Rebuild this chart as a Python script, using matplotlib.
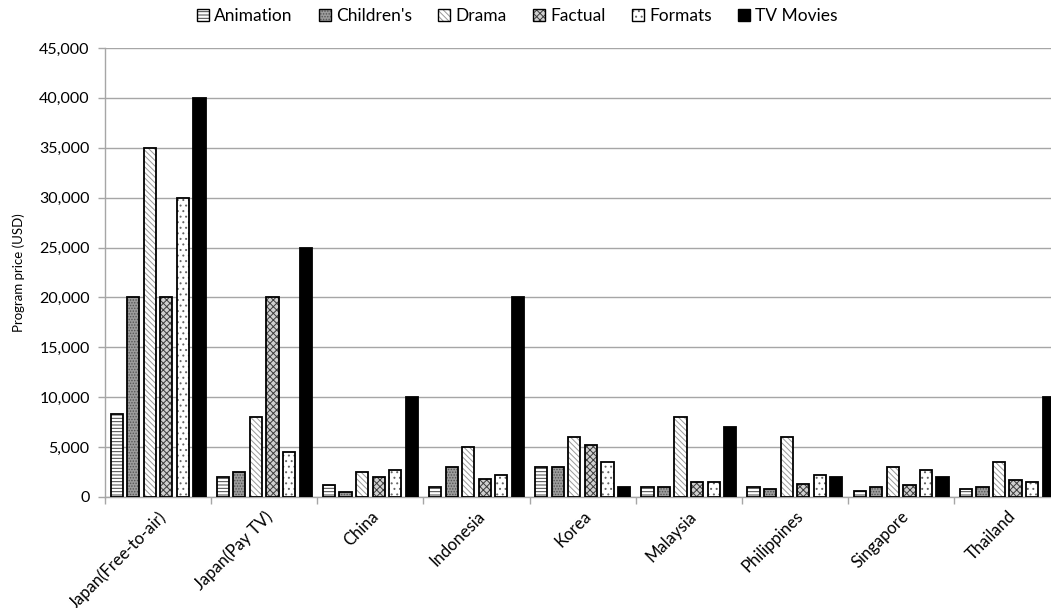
import numpy as np
import matplotlib
matplotlib.use("Agg")
import matplotlib.pyplot as plt
from matplotlib.patches import Patch
from matplotlib.ticker import FuncFormatter, FixedLocator

plt.rcParams['font.family'] = ['Lato', 'DejaVu Sans']
plt.rcParams['hatch.linewidth'] = 0.7

# --- data (USD per program)
countries = ["Japan(Free-to-air)", "Japan(Pay TV)", "China", "Indonesia", "Korea",
             "Malaysia", "Philippines", "Singapore", "Thailand"]
animation  = [8300, 2000, 1250, 1000, 3000, 1000, 1000, 600, 750]
childrens  = [20000, 2500, 500, 3000, 3000, 1000, 750, 1000, 1000]
drama      = [35000, 8000, 2500, 5000, 6000, 8000, 6000, 3000, 3500]
factual    = [20000, 20000, 2000, 1800, 5200, 1500, 1300, 1200, 1700]
formats    = [30000, 4500, 2750, 2250, 3500, 1500, 2250, 2750, 1500]
tv_movies  = [40000, 25000, 10000, 20000, 1000, 7000, 2000, 2000, 10000]

genres = ["Animation", "Children's", "Drama", "Factual", "Formats", "TV Movies"]
series = [animation, childrens, drama, factual, formats, tv_movies]

# face colour, hatch, hatch colour per genre
styles = [
    ('white',   '-----',        '#444444'),
    ('#9c9c9c', '......',       '#555555'),
    ('white',   '\\\\\\\\\\\\', '#9a9a9a'),
    ('#d0d0d0', 'xxxxx',        '#3c3c3c'),
    ('white',   '...',          '#666666'),
    ('black',   None,           'black'),
]

fig = plt.figure(figsize=(10.51, 6.08), dpi=100)
ax = fig.add_axes([0.0999, 0.1826, 0.909, 0.7385])

x = np.arange(len(countries))
pitch = 0.156
width = 0.115
offsets = (np.arange(len(genres)) - 2.5) * pitch

handles = []
for vals, off, (fc, hatch, hc), name in zip(series, offsets, styles, genres):
    # hatch layer takes its colour from the edge, so the black outline is drawn on top
    ax.bar(x + off, vals, width, color=fc, edgecolor=hc, linewidth=0,
           hatch=hatch, zorder=3)
    ax.bar(x + off, vals, width, fill=False, edgecolor='black', linewidth=1.3,
           zorder=4)
    handles.append((Patch(facecolor=fc, edgecolor=hc, linewidth=0, hatch=hatch),
                    Patch(fill=False, edgecolor='black', linewidth=1.0)))

ax.set_xlim(-0.5, len(countries) - 0.5)
ax.set_ylim(0, 45000)
ax.set_yticks(np.arange(0, 45001, 5000))
ax.yaxis.set_major_formatter(FuncFormatter(lambda v, p: f"{int(v):,}"))
ax.grid(axis='y', color='#a6a6a6', linewidth=1.0, zorder=0)
ax.set_axisbelow(True)

ax.set_xticks(x)
ax.set_xticklabels(countries, rotation=45, ha='right', va='top',
                   rotation_mode='anchor', fontsize=12)
ax.xaxis.set_minor_locator(FixedLocator(np.arange(-0.5, len(countries), 1.0)))
ax.tick_params(axis='x', which='major', length=0, pad=8)
ax.tick_params(axis='x', which='minor', length=5, color='#a6a6a6', width=1)
ax.tick_params(axis='y', length=5, color='#a6a6a6', width=1, labelsize=11.5, pad=6)

for side in ('top', 'right'):
    ax.spines[side].set_visible(False)
for side in ('left', 'bottom'):
    ax.spines[side].set_color('#a6a6a6')
    ax.spines[side].set_linewidth(1.0)

ax.set_ylabel("Program price (USD)", fontsize=9.5, labelpad=10)

fig.legend(handles=handles, labels=genres, loc='upper center',
           bbox_to_anchor=(0.492, 1.012), ncol=6, frameon=False, fontsize=12.5,
           handlelength=0.7, handleheight=0.7, handletextpad=0.3,
           columnspacing=1.5)

fig.savefig("out.png", dpi=100)
